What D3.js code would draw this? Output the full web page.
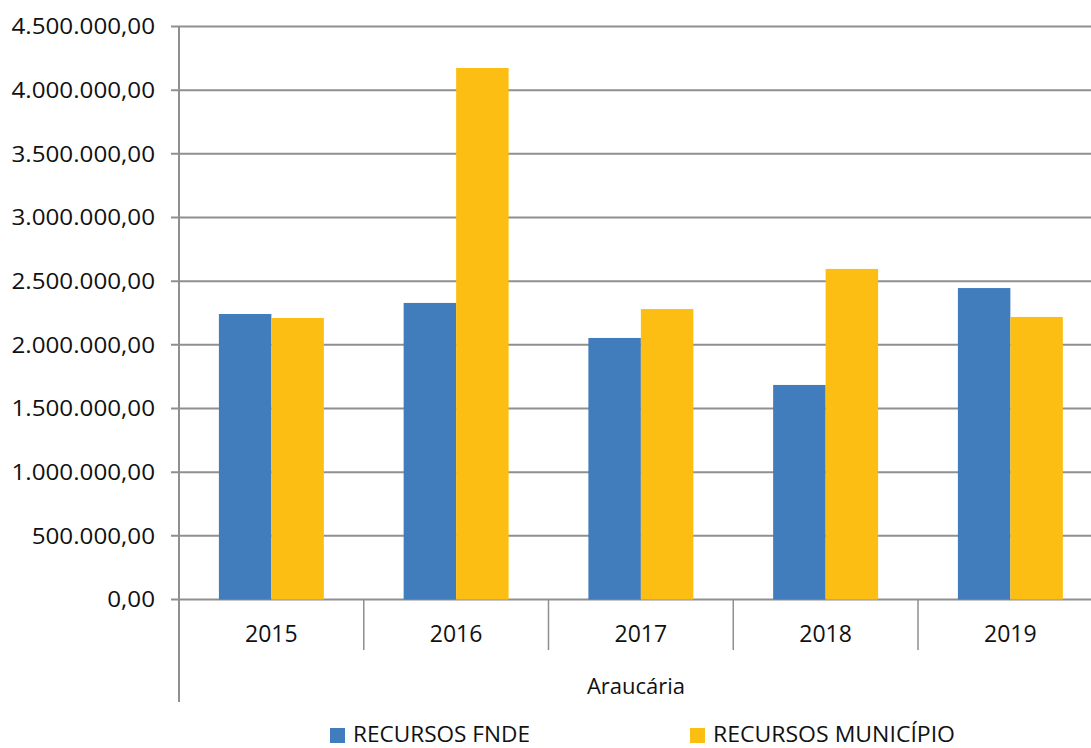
<!DOCTYPE html>
<html><head><meta charset="utf-8">
<script src="https://cdn.jsdelivr.net/npm/d3@7"></script>
<style>body{margin:0;background:#fff}svg{display:block}text{font-family:"Open Sans",sans-serif;fill:#111}</style>
</head><body>
<svg id="c" width="1091" height="748"></svg>
<script>
const categories = ["2015","2016","2017","2018","2019"];
const seriesNames = ["RECURSOS FNDE","RECURSOS MUNICÍPIO"];
const fnde = [2242000, 2329000, 2054000, 1685000, 2446000];
const municipio = [2211000, 4174000, 2281000, 2596000, 2219000];
const yTicks = [0,500000,1000000,1500000,2000000,2500000,3000000,3500000,4000000,4500000];
const axisTitle = "Araucária";
const colors = ["#417dbd","#fdbe14"];

const svg = d3.select("#c");
const x0 = 179, bandW = 184.75;
const x = d3.scaleBand().domain(categories).range([x0, x0 + bandW*categories.length]).padding(0);
const xi = d3.scaleBand().domain(seriesNames).range([0, bandW]).paddingInner(0).paddingOuter(0.76);
const y = d3.scaleLinear().domain([0,4500000]).range([599.5,26.5]);
const fmt = v => d3.format(",.2f")(v).replace(/,/g,"#").replace(/\./g,",").replace(/#/g,".");

// gridlines
svg.append("g").selectAll("line").data(yTicks).join("line")
  .attr("x1",171).attr("x2",1091).attr("y1",d=>y(d)).attr("y2",d=>y(d))
  .attr("stroke","#8f8f8f").attr("stroke-width",2);
// tick labels
svg.append("g").selectAll("text").data(yTicks).join("text")
  .attr("x",155).attr("y",d=>y(d)).attr("dy","0.35em").attr("text-anchor","end")
  .attr("font-size",22)
  .each(function(d){ const s = fmt(d); const t = d3.select(this).text(s);
    t.attr("textLength", this.getComputedTextLength()*1.1).attr("lengthAdjust","spacingAndGlyphs"); });

// bars
const series = [fnde, municipio];
series.forEach((vals,si)=>{
  svg.append("g").selectAll("rect").data(categories).join("rect")
    .attr("x",d=>x(d)+xi(seriesNames[si]))
    .attr("width",xi.bandwidth())
    .attr("y",(d,i)=>y(vals[i]))
    .attr("height",(d,i)=>y(0)-y(vals[i]))
    .attr("fill",colors[si]);
});

// y axis line
svg.append("line").attr("x1",x0).attr("x2",x0).attr("y1",26.5).attr("y2",702)
  .attr("stroke","#8f8f8f").attr("stroke-width",2);
// category dividers
svg.append("g").selectAll("line").data(categories.slice(1)).join("line")
  .attr("x1",d=>x(d)).attr("x2",d=>x(d)).attr("y1",599.5).attr("y2",650)
  .attr("stroke","#8f8f8f").attr("stroke-width",1.5);
// category labels
svg.append("g").selectAll("text").data(categories).join("text")
  .attr("x",d=>x(d)+x.bandwidth()/2).attr("y",633.5).attr("dy","0.35em")
  .attr("text-anchor","middle").attr("font-size",23).text(d=>d);
svg.append("text").attr("x",636).attr("y",686).attr("dy","0.35em")
  .attr("text-anchor","middle").attr("font-size",22).text(axisTitle);

// legend
const legX = [330, 690];
const legW = [177, 242];
seriesNames.forEach((n,i)=>{
  svg.append("rect").attr("x",legX[i]).attr("y",728).attr("width",15).attr("height",15).attr("fill",colors[i]);
  svg.append("text").attr("x",legX[i]+23).attr("y",742)
    .attr("font-size",21).attr("textLength",legW[i]).attr("lengthAdjust","spacingAndGlyphs").text(n);
});
</script>
</body></html>
